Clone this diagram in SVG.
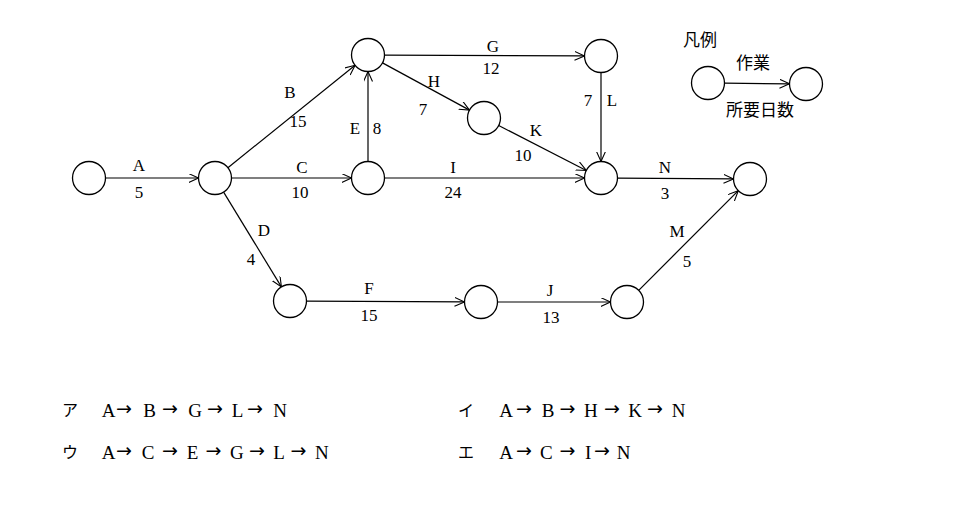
<svg xmlns="http://www.w3.org/2000/svg" width="974" height="520" viewBox="0 0 974 520">
<style>
.n{fill:#fff;stroke:#000;stroke-width:1.3}
.e{stroke:#000;stroke-width:1.2;fill:none;marker-end:url(#ah)}
.t{font-family:"Liberation Serif","DejaVu Serif",serif;font-size:17px;fill:#000;text-anchor:middle}
.j{font-family:"Noto Sans CJK JP",sans-serif;font-size:17px;fill:#000;text-anchor:middle}
.b{font-family:"Liberation Serif","DejaVu Serif",serif;font-size:19px;fill:#000}
.a{font-family:"DejaVu Sans",sans-serif;font-size:19px}
.k{font-family:"Noto Sans CJK JP",sans-serif;font-size:16px;fill:#000}
</style>
<defs>
<marker id="ah" markerUnits="userSpaceOnUse" markerWidth="12" markerHeight="10" refX="10" refY="4.5" orient="auto">
<path d="M0,0 L10,4.5 L0,9" fill="none" stroke="#000" stroke-width="1.1"/>
</marker>
</defs>
<rect width="974" height="520" fill="#fff"/>
<g id="connectors">
<line class="e" x1="105.5" y1="178" x2="198.5" y2="178"/>
<line class="e" x1="227.9" y1="167.7" x2="355.1" y2="65.3"/>
<line class="e" x1="231.5" y1="178" x2="351.5" y2="178"/>
<line class="e" x1="223.6" y1="192.1" x2="281.4" y2="286.9"/>
<line class="e" x1="368" y1="161.5" x2="368" y2="71.5"/>
<line class="e" x1="306.5" y1="301.1" x2="464.5" y2="301.9"/>
<line class="e" x1="384.5" y1="55.1" x2="584.5" y2="55.9"/>
<line class="e" x1="382.5" y1="62.9" x2="469.5" y2="110.1"/>
<line class="e" x1="384.5" y1="178" x2="584.5" y2="178"/>
<line class="e" x1="497.5" y1="302" x2="610.5" y2="302"/>
<line class="e" x1="498.7" y1="125.5" x2="586.3" y2="170.5"/>
<line class="e" x1="601" y1="72.5" x2="601" y2="161.5"/>
<line class="e" x1="638.7" y1="290.3" x2="738.3" y2="190.7"/>
<line class="e" x1="617.5" y1="178.1" x2="733.5" y2="178.9"/>
<line class="e" x1="724.5" y1="83.2" x2="789.5" y2="83.8"/>
</g>
<g id="n1"><circle class="n" cx="89" cy="178" r="16.5"/></g>
<g id="n2"><circle class="n" cx="215" cy="178" r="16.5"/></g>
<g id="n3"><circle class="n" cx="368" cy="55" r="16.5"/></g>
<g id="n4"><circle class="n" cx="368" cy="178" r="16.5"/></g>
<g id="n5"><circle class="n" cx="601" cy="56" r="16.5"/></g>
<g id="n6"><circle class="n" cx="484" cy="118" r="16.5"/></g>
<g id="n7"><circle class="n" cx="601" cy="178" r="16.5"/></g>
<g id="n8"><circle class="n" cx="750" cy="179" r="16.5"/></g>
<g id="n9"><circle class="n" cx="290" cy="301" r="16.5"/></g>
<g id="n10"><circle class="n" cx="481" cy="302" r="16.5"/></g>
<g id="n11"><circle class="n" cx="627" cy="302" r="16.5"/></g>
<g id="legend">
<circle class="n" cx="708" cy="83" r="16.5"/>
<circle class="n" cx="806" cy="84" r="16.5"/>
<text class="j" x="700" y="46">凡例</text>
<text class="j" x="753" y="69">作業</text>
<text class="j" x="760" y="116">所要日数</text>
</g>
<g id="labels">
<text class="t" x="139" y="171">A</text><text class="t" x="139" y="198">5</text>
<text class="t" x="290" y="97.5">B</text><text class="t" x="298" y="127">15</text>
<text class="t" x="302" y="172.5">C</text><text class="t" x="300" y="198">10</text>
<text class="t" x="264" y="236">D</text><text class="t" x="251" y="265">4</text>
<text class="t" x="355" y="133.5">E</text><text class="t" x="377" y="133.5">8</text>
<text class="t" x="369" y="294">F</text><text class="t" x="369" y="321">15</text>
<text class="t" x="493" y="52">G</text><text class="t" x="491" y="74">12</text>
<text class="t" x="434" y="87">H</text><text class="t" x="423" y="115">7</text>
<text class="t" x="453" y="172.5">I</text><text class="t" x="453" y="198">24</text>
<text class="t" x="550" y="296">J</text><text class="t" x="551" y="322.5">13</text>
<text class="t" x="536" y="136">K</text><text class="t" x="523" y="161">10</text>
<text class="t" x="588" y="106">7</text><text class="t" x="612" y="106">L</text>
<text class="t" x="677" y="236.5">M</text><text class="t" x="687" y="266.5">5</text>
<text class="t" x="665" y="172.5">N</text><text class="t" x="665" y="198.5">3</text>
</g>
<g id="choices">
<text class="k" x="62" y="416">ア</text>
<text class="b" y="416.5"><tspan x="101.7">A</tspan><tspan class="a" x="116" y="415">→</tspan><tspan x="143.3" y="416.5">B</tspan><tspan class="a" x="162" y="415">→</tspan><tspan x="188.3" y="416.5">G</tspan><tspan class="a" x="207" y="415">→</tspan><tspan x="231.7" y="416.5">L</tspan><tspan class="a" x="247" y="415">→</tspan><tspan x="273.3" y="416.5">N</tspan></text>
<text class="k" x="62" y="458">ウ</text>
<text class="b" y="458.5"><tspan x="101.7">A</tspan><tspan class="a" x="116" y="457">→</tspan><tspan x="141.7" y="458.5">C</tspan><tspan class="a" x="162" y="457">→</tspan><tspan x="186.7" y="458.5">E</tspan><tspan class="a" x="205.5" y="457">→</tspan><tspan x="230" y="458.5">G</tspan><tspan class="a" x="249" y="457">→</tspan><tspan x="273.3" y="458.5">L</tspan><tspan class="a" x="290.5" y="457">→</tspan><tspan x="315" y="458.5">N</tspan></text>
<text class="k" x="458" y="416">イ</text>
<text class="b" y="416.5"><tspan x="499.3">A</tspan><tspan class="a" x="516" y="415">→</tspan><tspan x="541.7" y="416.5">B</tspan><tspan class="a" x="559.5" y="415">→</tspan><tspan x="584" y="416.5">H</tspan><tspan class="a" x="604" y="415">→</tspan><tspan x="628.3" y="416.5">K</tspan><tspan class="a" x="647" y="415">→</tspan><tspan x="671.7" y="416.5">N</tspan></text>
<text class="k" x="458" y="458">エ</text>
<text class="b" y="458.5"><tspan x="499.3">A</tspan><tspan class="a" x="516" y="457">→</tspan><tspan x="540" y="458.5">C</tspan><tspan class="a" x="559.5" y="457">→</tspan><tspan x="585" y="458.5">I</tspan><tspan class="a" x="594" y="457">→</tspan><tspan x="616.7" y="458.5">N</tspan></text>
</g>
</svg>
